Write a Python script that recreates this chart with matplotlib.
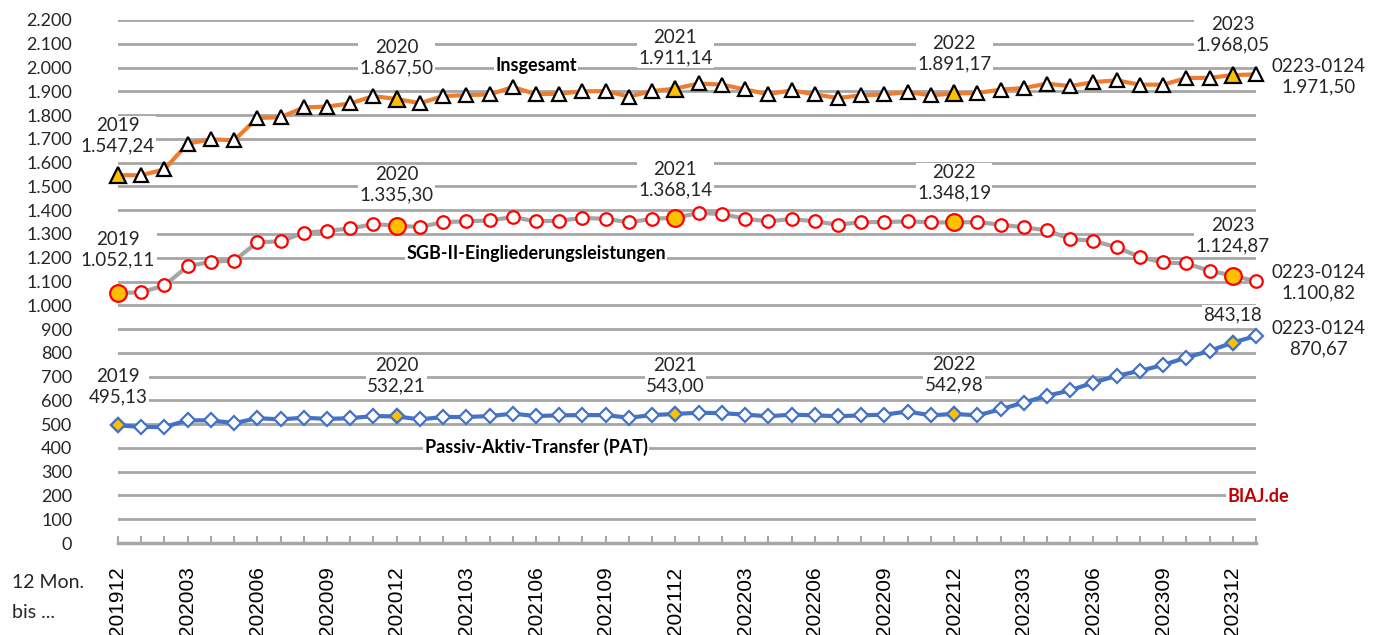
import matplotlib.pyplot as plt
from matplotlib.ticker import FuncFormatter

# 12-Monats-Summen (Mio. Euro), Dez 2019 bis Jan 2024
insgesamt = [1547.24, 1547, 1572, 1680, 1698, 1694, 1788, 1791, 1832, 1836,
             1849, 1880, 1867.50, 1850, 1880, 1884, 1887, 1918, 1888, 1890,
             1900, 1901, 1878, 1901, 1911.14, 1933, 1928, 1908, 1888, 1904,
             1887, 1872, 1883, 1887, 1897, 1883, 1891.17, 1893, 1907, 1914,
             1932, 1922, 1939, 1946, 1928, 1928, 1956, 1957, 1968.05, 1971.50]
sgb = [1052.11, 1054, 1084, 1164, 1183, 1188, 1265, 1269, 1305, 1313,
       1323, 1341, 1335.30, 1329, 1350, 1353, 1357, 1371, 1353, 1356,
       1367, 1364, 1349, 1364, 1368.14, 1388, 1384, 1364, 1353, 1363,
       1353, 1339, 1350, 1350, 1353, 1349, 1348.19, 1350, 1339, 1328,
       1315, 1279, 1271, 1244, 1203, 1180, 1176, 1145, 1124.87, 1100.82]
pat = [495.13, 488, 488, 516, 516, 504, 525, 520, 527, 522,
       525, 534, 532.21, 520, 530, 530, 534, 544, 534, 537,
       538, 538, 527, 538, 543.00, 548, 546, 540, 533, 540,
       537, 533, 537, 540, 553, 537, 542.98, 537, 562, 591,
       619, 642, 675, 703, 724, 749, 780, 808, 843.18, 870.67]

tick_labels = ['201912', '202003', '202006', '202009', '202012', '202103',
               '202106', '202109', '202112', '202203', '202206', '202209',
               '202212', '202303', '202306', '202309', '202312']
years = ['2019', '2020', '2021', '2022', '2023']
highlight = [0, 12, 24, 36, 48]
last_label = '0223-0124'


def de(v, nd=2):
    s = f"{v:,.{nd}f}"
    return s.replace(',', 'X').replace('.', ',').replace('X', '.')


plt.rcParams['font.family'] = ['Lato', 'DejaVu Sans']

fig = plt.figure(figsize=(13.79, 6.35), dpi=100)
ax = fig.add_axes([118 / 1379, 1 - 543 / 635, (1256 - 118) / 1379, (543 - 20) / 635])

n = len(insgesamt)
x = list(range(n))

# gridlines
for v in range(100, 2201, 100):
    ax.axhline(v, color='#A6A6A6', lw=2, zorder=0)

series = [
    (insgesamt, '#ED7D31', '^', 'black', 10, 12, 3),
    (sgb, '#A5A5A5', 'o', '#FF0000', 9, 12, 3),
    (pat, '#4472C4', 'D', '#4472C4', 7, 7.5, 3),
]
for vals, lc, mk, ec, ms, ms_hi, lw in series:
    ax.plot(x, vals, color=lc, lw=lw, zorder=2, clip_on=False)
    ax.plot(x, vals, ls='none', marker=mk, ms=ms, mfc='white', mec=ec,
            mew=1.6, zorder=3, clip_on=False)
    ax.plot([x[i] for i in highlight], [vals[i] for i in highlight], ls='none',
            marker=mk, ms=ms_hi, mfc='#FFC000', mec=ec, mew=1.6, zorder=4,
            clip_on=False)

# value labels (positions in data coords)
fs = 13.5
bbox = dict(facecolor='white', edgecolor='none', pad=1)
lab_pos = {
    'ins': [(0, 1712), (12, 2040), (24, 2082), (36, 2057), (48, 2137), (51.7, 1960)],
    'sgb': [(0, 1233), (12, 1506), (24, 1527), (36, 1515), (48, 1292), (51.7, 1094)],
    'pat': [(0, 656), (12, 703), (24, 703), (36, 707), (48, 959), (51.7, 858)],
}
for key, vals in [('ins', insgesamt), ('sgb', sgb), ('pat', pat)]:
    for j, i in enumerate(highlight):
        px, py = lab_pos[key][j]
        txt = years[j] + '\n' + de(vals[i])
        if key == 'pat' and j == 4:
            txt = de(vals[i])
        ax.text(px, py, txt, ha='center', va='center', fontsize=fs,
                color='#262626', bbox=bbox, zorder=5, linespacing=1.25,
                clip_on=False)
    px, py = lab_pos[key][5]
    ax.text(px, py, last_label + '\n' + de(vals[-1]), ha='center', va='center',
            fontsize=fs, color='#262626', zorder=5, linespacing=1.25,
            clip_on=False)

ax.text(18, 2007, 'Insgesamt', ha='center', va='center', fontsize=13,
        fontweight='bold', bbox=bbox, zorder=5)
ax.text(18, 1216, 'SGB-II-Eingliederungsleistungen', ha='center', va='center',
        fontsize=13, fontweight='bold', bbox=bbox, zorder=5)
ax.text(18, 404, 'Passiv-Aktiv-Transfer (PAT)', ha='center', va='center',
        fontsize=13, fontweight='bold', bbox=bbox, zorder=5)
ax.text(49.1, 194, 'BIAJ.de', ha='center', va='center', fontsize=13,
        fontweight='bold', color='#C00000', bbox=bbox, zorder=5)

ax.set_xlim(0, n - 1)
ax.set_ylim(0, 2200)
ax.set_yticks(range(0, 2201, 100))
ax.yaxis.set_major_formatter(FuncFormatter(lambda v, p: de(v, 0)))
ax.tick_params(axis='y', length=0, pad=33, labelsize=13, labelcolor='#262626')

ax.set_xticks(x)
ax.set_xticklabels([tick_labels[i // 3] if i % 3 == 0 else '' for i in x],
                   rotation=90, fontsize=15, family='Liberation Sans')
ax.tick_params(axis='x', direction='in', length=5, width=1.5, color='#A6A6A6',
               pad=17, labelcolor='black')

for s in ['top', 'right', 'left']:
    ax.spines[s].set_visible(False)
ax.spines['bottom'].set_color('#A6A6A6')
ax.spines['bottom'].set_linewidth(2.5)

fig.text(12 / 1379, 1 - 583 / 635, '12 Mon.', fontsize=14, va='center',
         color='#262626')
fig.text(12 / 1379, 1 - 613 / 635, 'bis ...', fontsize=14, va='center',
         color='#262626')

fig.savefig('out.png', dpi=100)
